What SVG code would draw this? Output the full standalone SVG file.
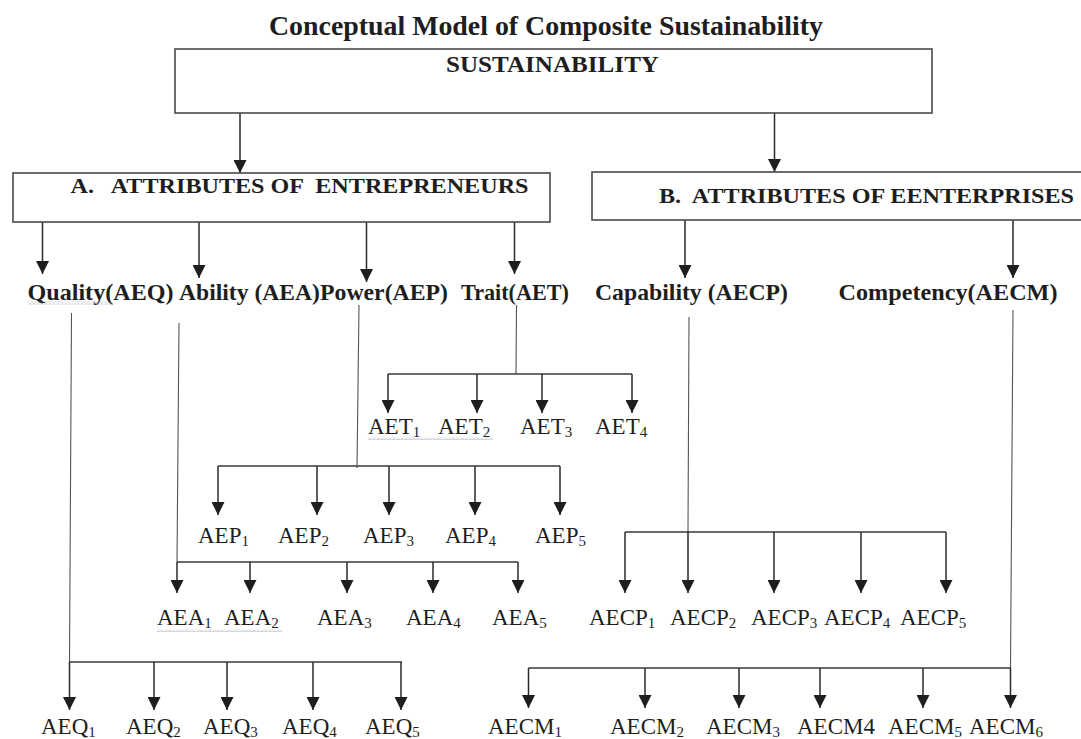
<svg xmlns="http://www.w3.org/2000/svg" width="1081" height="739" viewBox="0 0 1081 739">
<style>
.t{font-family:"Liberation Serif","Times New Roman",serif;fill:#1e1e1e}
.b{font-weight:bold}
.lbl{font-size:23px}
.sub{font-size:15px}
.box{fill:#fff;stroke:#4a4a4a;stroke-width:1.6}
.arr{stroke:#2a2a2a;stroke-width:1.5;fill:none;marker-end:url(#ah)}
.ln{stroke:#3a3a3a;stroke-width:1.4;fill:none}
.thin{stroke:#555;stroke-width:1.1;fill:none}
.wavy{fill:url(#wv)}
</style>
<defs>
<marker id="ah" markerUnits="userSpaceOnUse" markerWidth="13" markerHeight="13" viewBox="0 0 13 13" refX="13" refY="6.5" orient="auto">
<path d="M0,0 L13,6.5 L0,13 z" fill="#1e1e1e"/>
</marker>
<pattern id="wv" patternUnits="userSpaceOnUse" width="4" height="3">
<path d="M0,2.5 L2,0.5 L4,2.5" stroke="#8e9bb0" stroke-width="0.8" fill="none"/>
</pattern>
</defs>
<rect width="1081" height="739" fill="#fff"/>

<g id="title">
<text class="t b" x="269" y="35" font-size="28" textLength="554" lengthAdjust="spacingAndGlyphs">Conceptual Model of Composite Sustainability</text>
</g>

<g id="connectors">
<line class="arr" x1="240" y1="109" x2="240" y2="173"/>
<line class="arr" x1="774.5" y1="113" x2="774.5" y2="172"/>
<line class="arr" x1="42.5" y1="218" x2="42.5" y2="274"/>
<line class="arr" x1="199" y1="218" x2="199" y2="278"/>
<line class="arr" x1="366.5" y1="218" x2="366.5" y2="282"/>
<line class="arr" x1="514.5" y1="218" x2="514.5" y2="274"/>
<line class="arr" x1="685" y1="220" x2="685" y2="278"/>
<line class="arr" x1="1013" y1="220" x2="1013" y2="278"/>

<line class="thin" x1="516.5" y1="305" x2="516" y2="374"/>
<line class="ln" x1="388" y1="374" x2="632" y2="374"/>
<line class="arr" x1="388" y1="374" x2="388" y2="413"/>
<line class="arr" x1="477" y1="374" x2="477" y2="413"/>
<line class="arr" x1="542" y1="374" x2="542" y2="413"/>
<line class="arr" x1="632" y1="374" x2="632" y2="413"/>

<line class="thin" x1="359" y1="305" x2="357" y2="468"/>
<line class="ln" x1="218" y1="466" x2="560" y2="466"/>
<line class="arr" x1="218" y1="466" x2="218" y2="515"/>
<line class="arr" x1="317" y1="466" x2="317" y2="515"/>
<line class="arr" x1="389" y1="466" x2="389" y2="515"/>
<line class="arr" x1="475" y1="466" x2="475" y2="515"/>
<line class="arr" x1="560" y1="466" x2="560" y2="515"/>

<line class="thin" x1="179" y1="323" x2="177" y2="562"/>
<line class="ln" x1="177" y1="562" x2="518" y2="562"/>
<line class="arr" x1="177" y1="562" x2="177" y2="593"/>
<line class="arr" x1="250" y1="562" x2="250" y2="593"/>
<line class="arr" x1="347" y1="562" x2="347" y2="593"/>
<line class="arr" x1="433" y1="562" x2="433" y2="593"/>
<line class="arr" x1="518" y1="562" x2="518" y2="593"/>

<line class="thin" x1="689" y1="317" x2="688" y2="532"/>
<line class="ln" x1="625" y1="532" x2="946" y2="532"/>
<line class="arr" x1="625" y1="532" x2="625" y2="593"/>
<line class="arr" x1="688" y1="532" x2="688" y2="593"/>
<line class="arr" x1="774" y1="532" x2="774" y2="593"/>
<line class="arr" x1="861" y1="532" x2="861" y2="593"/>
<line class="arr" x1="946" y1="532" x2="946" y2="593"/>

<line class="thin" x1="71.5" y1="313" x2="69.5" y2="662"/>
<line class="ln" x1="69.5" y1="662" x2="402" y2="662"/>
<line class="arr" x1="69.5" y1="662" x2="69.5" y2="710"/>
<line class="arr" x1="154" y1="662" x2="154" y2="710"/>
<line class="arr" x1="227" y1="662" x2="227" y2="710"/>
<line class="arr" x1="313" y1="662" x2="313" y2="710"/>
<line class="arr" x1="401" y1="662" x2="401" y2="710"/>

<line class="thin" x1="1013" y1="310" x2="1010.5" y2="668"/>
<line class="ln" x1="528.5" y1="668" x2="1010.5" y2="668"/>
<line class="arr" x1="528.5" y1="668" x2="528.5" y2="708"/>
<line class="arr" x1="645" y1="668" x2="645" y2="708"/>
<line class="arr" x1="739" y1="668" x2="739" y2="708"/>
<line class="arr" x1="820" y1="668" x2="820" y2="708"/>
<line class="arr" x1="923" y1="668" x2="923" y2="708"/>
<line class="arr" x1="1010.5" y1="668" x2="1010.5" y2="708"/>
</g>

<g id="n-sustainability">
<rect class="box" x="175" y="49" width="757" height="64"/>
<text class="t b" x="446" y="72" font-size="24" textLength="213" lengthAdjust="spacingAndGlyphs">SUSTAINABILITY</text>
</g>
<g id="n-a">
<rect class="box" x="13" y="173" width="537" height="49"/>
<text class="t b" x="70.5" y="193" font-size="22" xml:space="preserve" textLength="458" lengthAdjust="spacingAndGlyphs">A.   ATTRIBUTES OF  ENTREPRENEURS</text>
</g>
<g id="n-b">
<rect class="box" x="592" y="172" width="520" height="48"/>
<text class="t b" x="659" y="203" font-size="22" xml:space="preserve" textLength="415" lengthAdjust="spacingAndGlyphs">B.  ATTRIBUTES OF EENTERPRISES</text>
</g>

<g id="n-quality">
<text class="t b" x="27.5" y="300" font-size="23" textLength="146" lengthAdjust="spacingAndGlyphs">Quality(AEQ)</text>
<rect class="wavy" x="27.5" y="301.5" width="85" height="3"/>
</g>
<g id="n-ability">
<text class="t b" x="179" y="300" font-size="23" xml:space="preserve" textLength="141" lengthAdjust="spacingAndGlyphs">Ability (AEA)</text>
</g>
<g id="n-power">
<text class="t b" x="320" y="300" font-size="23" textLength="128" lengthAdjust="spacingAndGlyphs">Power(AEP)</text>
</g>
<g id="n-trait">
<text class="t b" x="461" y="300" font-size="23" textLength="108" lengthAdjust="spacingAndGlyphs">Trait(AET)</text>
</g>
<g id="n-capability">
<text class="t b" x="595" y="300" font-size="23" xml:space="preserve" textLength="193" lengthAdjust="spacingAndGlyphs">Capability (AECP)</text>
</g>
<g id="n-competency">
<text class="t b" x="838.5" y="300" font-size="23" textLength="219" lengthAdjust="spacingAndGlyphs">Competency(AECM)</text>
</g>

<g id="n-aet">
<text class="t lbl" x="368" y="434">AET<tspan class="sub" dy="3">1</tspan></text>
<text class="t lbl" x="438" y="434">AET<tspan class="sub" dy="3">2</tspan></text>
<text class="t lbl" x="520" y="434">AET<tspan class="sub" dy="3">3</tspan></text>
<text class="t lbl" x="595" y="434">AET<tspan class="sub" dy="3">4</tspan></text>
<rect class="wavy" x="368" y="437" width="125" height="3"/>
</g>
<g id="n-aep">
<text class="t lbl" x="198" y="543">AEP<tspan class="sub" dy="3">1</tspan></text>
<text class="t lbl" x="278" y="543">AEP<tspan class="sub" dy="3">2</tspan></text>
<text class="t lbl" x="363" y="543">AEP<tspan class="sub" dy="3">3</tspan></text>
<text class="t lbl" x="445" y="543">AEP<tspan class="sub" dy="3">4</tspan></text>
<text class="t lbl" x="535" y="543">AEP<tspan class="sub" dy="3">5</tspan></text>
</g>
<g id="n-aea">
<text class="t lbl" x="157" y="625">AEA<tspan class="sub" dy="3">1</tspan></text>
<text class="t lbl" x="224" y="625">AEA<tspan class="sub" dy="3">2</tspan></text>
<text class="t lbl" x="317" y="625">AEA<tspan class="sub" dy="3">3</tspan></text>
<text class="t lbl" x="406" y="625">AEA<tspan class="sub" dy="3">4</tspan></text>
<text class="t lbl" x="492" y="625">AEA<tspan class="sub" dy="3">5</tspan></text>
<rect class="wavy" x="157" y="629" width="125" height="3"/>
</g>
<g id="n-aecp">
<text class="t lbl" x="589" y="625">AECP<tspan class="sub" dy="3">1</tspan></text>
<text class="t lbl" x="670" y="625">AECP<tspan class="sub" dy="3">2</tspan></text>
<text class="t lbl" x="751" y="625">AECP<tspan class="sub" dy="3">3</tspan></text>
<text class="t lbl" x="824" y="625">AECP<tspan class="sub" dy="3">4</tspan></text>
<text class="t lbl" x="900" y="625">AECP<tspan class="sub" dy="3">5</tspan></text>
</g>
<g id="n-aeq">
<text class="t lbl" x="41" y="734">AEQ<tspan class="sub" dy="3">1</tspan></text>
<text class="t lbl" x="126" y="734">AEQ<tspan class="sub" dy="3">2</tspan></text>
<text class="t lbl" x="203" y="734">AEQ<tspan class="sub" dy="3">3</tspan></text>
<text class="t lbl" x="282" y="734">AEQ<tspan class="sub" dy="3">4</tspan></text>
<text class="t lbl" x="365" y="734">AEQ<tspan class="sub" dy="3">5</tspan></text>
</g>
<g id="n-aecm">
<text class="t lbl" x="488" y="734">AECM<tspan class="sub" dy="3">1</tspan></text>
<text class="t lbl" x="610" y="734">AECM<tspan class="sub" dy="3">2</tspan></text>
<text class="t lbl" x="706" y="734">AECM<tspan class="sub" dy="3">3</tspan></text>
<text class="t lbl" x="797" y="734">AECM4</text>
<text class="t lbl" x="888" y="734">AECM<tspan class="sub" dy="3">5</tspan></text>
<text class="t lbl" x="969" y="734">AECM<tspan class="sub" dy="3">6</tspan></text>
</g>
</svg>
